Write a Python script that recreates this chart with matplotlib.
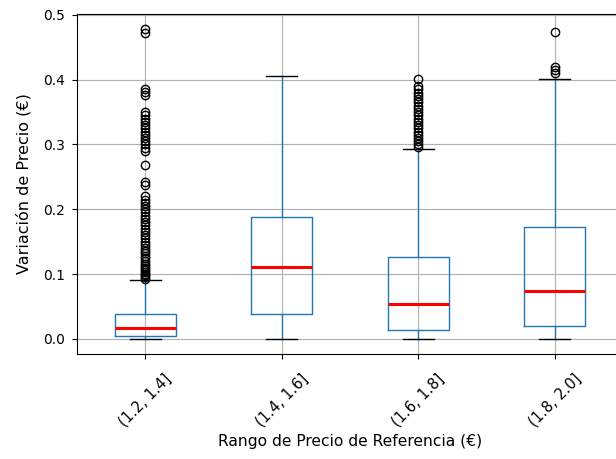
"""Box plot of price variation grouped by reference price range."""

import matplotlib.pyplot as plt

# price ranges used as categories
ranges = ["(1.2, 1.4]", "(1.4, 1.6]", "(1.6, 1.8]", "(1.8, 2.0]"]

# five-number summaries per range (€)
whisker_low = [0.0, 0.0, 0.0, 0.0]
q1 = [0.005, 0.039, 0.014, 0.020]
median = [0.016, 0.111, 0.053, 0.074]
q3 = [0.038, 0.188, 0.127, 0.173]
whisker_high = [0.090, 0.406, 0.293, 0.401]

# outliers per range
fliers_1 = [0.092, 0.095, 0.098, 0.100, 0.103, 0.106, 0.110, 0.113, 0.116,
            0.120, 0.124, 0.128, 0.132, 0.136, 0.140, 0.145, 0.150, 0.155,
            0.160, 0.165, 0.170, 0.175, 0.180, 0.185, 0.190, 0.195, 0.200,
            0.205, 0.210, 0.215, 0.220, 0.237, 0.242, 0.268, 0.290, 0.295,
            0.300, 0.305, 0.310, 0.315, 0.320, 0.325, 0.330, 0.335, 0.340,
            0.345, 0.350, 0.376, 0.381, 0.386, 0.472, 0.478]
fliers_2 = []
fliers_3 = [0.296, 0.300, 0.305, 0.310, 0.315, 0.320, 0.325, 0.330, 0.335,
            0.340, 0.345, 0.350, 0.355, 0.360, 0.365, 0.370, 0.375, 0.380,
            0.385, 0.390, 0.401]
fliers_4 = [0.410, 0.415, 0.420, 0.473]
fliers = [fliers_1, fliers_2, fliers_3, fliers_4]

stats = []
for i, label in enumerate(ranges):
    stats.append({
        "label": label,
        "whislo": whisker_low[i],
        "q1": q1[i],
        "med": median[i],
        "q3": q3[i],
        "whishi": whisker_high[i],
        "fliers": fliers[i],
    })

fig = plt.figure(figsize=(6.16, 4.59), dpi=100)
ax = fig.add_axes([0.125, 0.2288, 0.8864, 0.7407])

ax.bxp(
    stats,
    widths=0.45,
    boxprops=dict(color="#1f77b4", linewidth=1.0),
    whiskerprops=dict(color="#1f77b4", linewidth=1.0),
    capprops=dict(color="black", linewidth=1.0),
    medianprops=dict(color="red", linewidth=2.2),
    flierprops=dict(marker="o", markerfacecolor="none", markeredgecolor="black",
                    markersize=6),
)

ax.set_xlim(0.5, 4.5)
ax.set_ylim(-0.0235, 0.5015)
ax.set_yticks([0.0, 0.1, 0.2, 0.3, 0.4, 0.5])
ax.grid(True, color="#b0b0b0", linewidth=0.8)
ax.set_axisbelow(True)
ax.tick_params(axis="y", labelsize=10, pad=5.3)
ax.tick_params(axis="x", labelsize=10.5, rotation=45, pad=9)
ax.set_xlabel("Rango de Precio de Referencia (€)", fontsize=11.2, labelpad=3)
ax.set_ylabel("Variación de Precio (€)", fontsize=11.5, labelpad=8)

fig.savefig("out.png", dpi=100)
